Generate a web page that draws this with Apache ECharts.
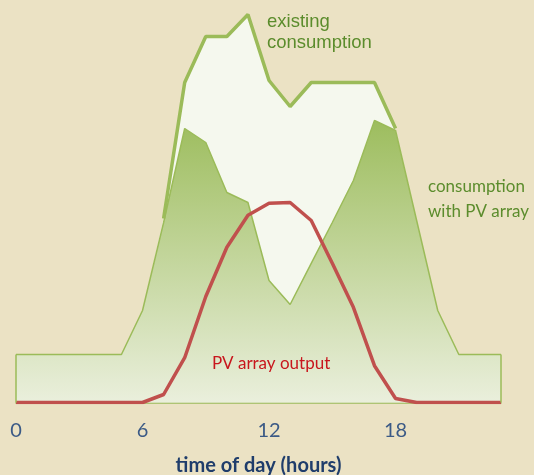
<!DOCTYPE html>
<html>
<head>
<meta charset="utf-8">
<script src="https://cdn.jsdelivr.net/npm/echarts@6/dist/echarts.min.js"></script>
<style>
  html, body { margin: 0; padding: 0; background: #ebe2c4; }
  #main { width: 534px; height: 475px; }
</style>
</head>
<body>
<div id="main"></div>
<script>
// hours of the day
const hours = ['0','1','2','3','4','5','6','7','8','9','10','11','12','13','14','15','16','17','18','19','20','21','22','23'];
// existing consumption (no PV)
const existing = [1.2, 1.2, 1.2, 1.2, 1.2, 1.2, 2.3, 4.6, 8.0, 9.15, 9.15, 9.7, 8.05, 7.4, 8.0, 8.0, 8.0, 8.0, 6.85, 4.55, 2.3, 1.2, 1.2, 1.2];
// consumption with PV array
const withPV = [1.2, 1.2, 1.2, 1.2, 1.2, 1.2, 2.3, 4.5, 6.85, 6.5, 5.25, 5.0, 3.05, 2.45, 3.48, 4.5, 5.55, 7.05, 6.8, 4.55, 2.3, 1.2, 1.2, 1.2];
// PV array output
const pvOutput = [0, 0, 0, 0, 0, 0, 0, 0.2, 1.12, 2.65, 3.88, 4.68, 4.98, 5.0, 4.55, 3.48, 2.38, 0.92, 0.1, 0, 0, 0, 0, 0];

const green = '#9bbb59';
const chart = echarts.init(document.getElementById('main'));

// thick line only where the existing curve stands above the PV one
const existingTop = existing.map((v, i) => (i >= 7 && i <= 18 ? v : null));

const option = {
  backgroundColor: '#ebe2c4',
  animation: false,
  grid: { left: 16, right: 33, top: 2.5, bottom: 72.5, outerBoundsMode: 'none', containLabel: false },
  xAxis: {
    type: 'category',
    data: hours,
    boundaryGap: false,
    name: 'time of day (hours)',
    nameLocation: 'middle',
    nameGap: 53,
    nameTextStyle: { fontFamily: 'Lato', fontWeight: 'bold', fontSize: 20, color: '#1f3d6b' },
    axisLine: { lineStyle: { color: green, width: 1.5 } },
    axisTick: { show: false },
    axisLabel: { interval: 5, margin: 18, fontFamily: 'Lato', fontSize: 20, color: '#3b5a86' }
  },
  yAxis: {
    type: 'value',
    min: 0,
    max: 10,
    show: false,
    splitLine: { show: false }
  },
  series: [
    {
      name: 'existing fill',
      type: 'line',
      data: existing,
      symbol: 'none',
      lineStyle: { width: 0 },
      areaStyle: { color: '#f5f8ee', opacity: 1 },
      z: 1
    },
    {
      name: 'consumption with PV array',
      type: 'line',
      data: withPV,
      symbol: 'none',
      lineStyle: { color: green, width: 1.5 },
      areaStyle: {
        opacity: 1,
        color: new echarts.graphic.LinearGradient(0, 0, 0, 1, [
          { offset: 0, color: '#9dbd5e' },
          { offset: 1, color: '#eaefdc' }
        ])
      },
      markLine: {
        silent: true,
        symbol: 'none',
        label: { show: false },
        lineStyle: { color: green, width: 1.5, type: 'solid' },
        data: [
          [{ coord: [hours[0], 0] }, { coord: [hours[0], withPV[0]] }],
          [{ coord: [hours[23], 0] }, { coord: [hours[23], withPV[23]] }]
        ]
      },
      z: 2
    },
    {
      name: 'existing consumption',
      type: 'line',
      data: existingTop,
      symbol: 'none',
      lineStyle: { color: green, width: 3.5 },
      z: 3
    },
    {
      name: 'PV array output',
      type: 'line',
      data: pvOutput,
      symbol: 'none',
      lineStyle: { color: '#c0504d', width: 3.5 },
      z: 4
    }
  ],
  graphic: [
    {
      type: 'text', left: 267, top: 11, z: 10,
      style: { text: 'existing\nconsumption', fill: '#5b8c2c', font: '18.5px "Liberation Sans"', lineHeight: 21 }
    },
    {
      type: 'text', left: 428, top: 174, z: 10,
      style: { text: 'consumption\nwith PV array', fill: '#5b8c2c', font: '17px Lato', lineHeight: 25 }
    },
    {
      type: 'text', left: 212, top: 355, z: 10,
      style: { text: 'PV array output', fill: '#c8161d', font: '17px Lato' }
    }
  ]
};
chart.setOption(option);
</script>
</body>
</html>
